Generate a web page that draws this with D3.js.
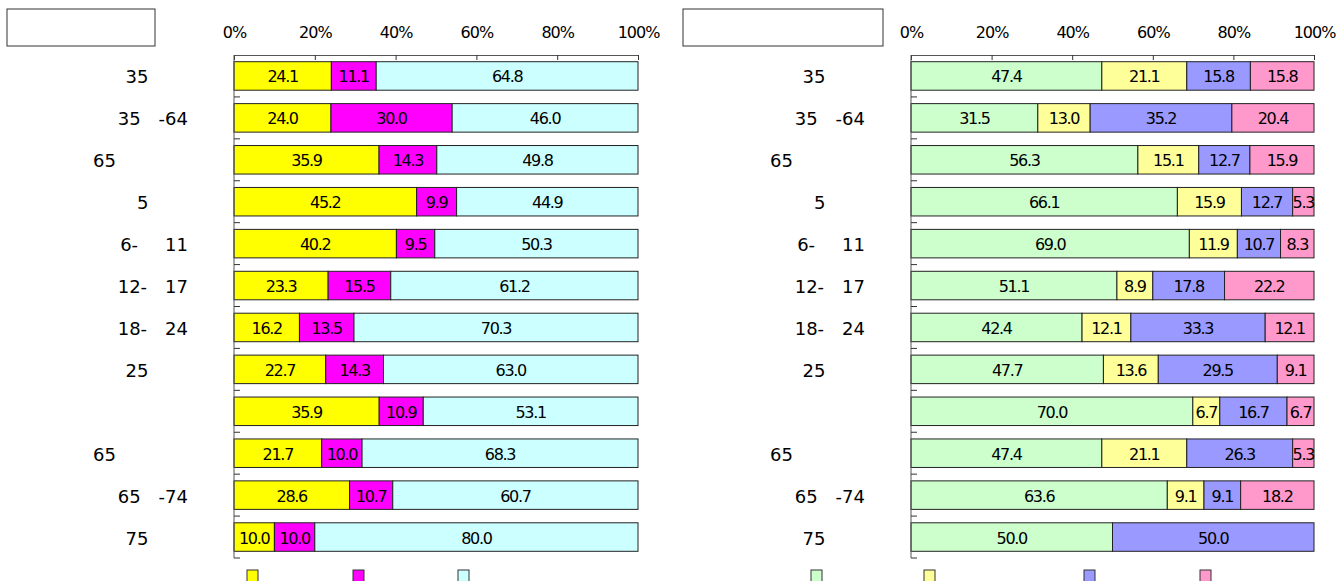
<!DOCTYPE html>
<html>
<head>
<meta charset="utf-8">
<script src="https://cdn.jsdelivr.net/npm/d3@7"></script>
<style>
body { margin: 0; background: #fff; }
svg { display: block; }
text { font-family: "DejaVu Sans", "Noto Sans CJK JP", sans-serif; fill: #000; }
</style>
</head>
<body>
<svg width="1341" height="581"></svg>
<script>
// row labels (the original glyphs after the numbers are blank, kept as spaces)
const categories = ["35\u2003\u2003\u2009", "35\u2003-64", "65\u2003\u2003\u2003\u2003", "5\u2003\u2003\u2009",
    "6-\u2003\u200211", "12-\u200317", "18-\u200324", "25\u2003\u2003\u2009", "",
    "65\u2003\u2003\u2003\u2003", "65\u2003-74", "75\u2003\u2003\u2009"];

const leftA = [24.1, 24.0, 35.9, 45.2, 40.2, 23.3, 16.2, 22.7, 35.9, 21.7, 28.6, 10.0];
const leftB = [11.1, 30.0, 14.3, 9.9, 9.5, 15.5, 13.5, 14.3, 10.9, 10.0, 10.7, 10.0];
const leftC = [64.8, 46.0, 49.8, 44.9, 50.3, 61.2, 70.3, 63.0, 53.1, 68.3, 60.7, 80.0];

const rightA = [47.4, 31.5, 56.3, 66.1, 69.0, 51.1, 42.4, 47.7, 70.0, 47.4, 63.6, 50.0];
const rightB = [21.1, 13.0, 15.1, 15.9, 11.9, 8.9, 12.1, 13.6, 6.7, 21.1, 9.1, 0];
const rightC = [15.8, 35.2, 12.7, 12.7, 10.7, 17.8, 33.3, 29.5, 16.7, 26.3, 9.1, 50.0];
const rightD = [15.8, 20.4, 15.9, 5.3, 8.3, 22.2, 12.1, 9.1, 6.7, 5.3, 18.2, 0];

const tickValues = [0, 0.2, 0.4, 0.6, 0.8, 1];

var svg = d3.select("svg");

var y = d3.scaleBand()
    .domain(d3.range(categories.length))
    .range([55, 558])
    .paddingInner(0.32)
    .paddingOuter(0.16);

function drawPanel(opts) {
    var g = svg.append("g");
    var x = d3.scaleLinear().domain([0, 1]).range([opts.x0, opts.x1]);

    // empty title box
    g.append("rect")
        .attr("x", opts.box[0]).attr("y", 9)
        .attr("width", opts.box[1]).attr("height", 37)
        .attr("fill", "#fff").attr("stroke", "#333");

    var rows = d3.range(categories.length).map(i => {
        var r = {i: i};
        opts.series.forEach((s, k) => { r[k] = s[i]; });
        return r;
    });
    var keys = opts.series.map((s, k) => k);
    var stacked = d3.stack().keys(keys).offset(d3.stackOffsetExpand)(rows);

    var layer = g.selectAll("g.layer")
        .data(stacked)
        .enter().append("g")
        .attr("class", "layer")
        .attr("fill", d => opts.colors[d.key]);

    layer.selectAll("rect")
        .data(d => d.filter(p => p[1] - p[0] > 0))
        .enter().append("rect")
        .attr("x", d => x(d[0]))
        .attr("y", d => y(d.data.i))
        .attr("width", d => x(d[1]) - x(d[0]))
        .attr("height", y.bandwidth())
        .attr("stroke", "#222")
        .attr("stroke-width", 1);

    layer.selectAll("text")
        .data(d => d.filter(p => p[1] - p[0] > 0).map(p => ({p: p, v: p.data[d.key]})))
        .enter().append("text")
        .attr("x", d => (x(d.p[0]) + x(d.p[1])) / 2)
        .attr("y", d => y(d.p.data.i) + y.bandwidth() / 2 + 1)
        .attr("dominant-baseline", "central")
        .attr("text-anchor", "middle")
        .attr("font-size", 16)
        .attr("letter-spacing", -1.3)
        .text(d => d.v.toFixed(1));

    // top axis
    var axis = g.append("g")
        .attr("transform", "translate(0,55)")
        .call(d3.axisTop(x).tickValues(tickValues)
            .tickFormat(d3.format(".0%"))
            .tickSizeInner(-5).tickSizeOuter(0).tickPadding(17));
    axis.select(".domain").attr("stroke", "#555");
    axis.selectAll(".tick line").attr("stroke", "#333");
    axis.attr("font-size", null).attr("font-family", null);
    axis.selectAll(".tick text")
        .attr("font-size", 16)
        .attr("letter-spacing", -1);

    // left axis with category separators
    g.append("line")
        .attr("x1", opts.x0).attr("x2", opts.x0)
        .attr("y1", y.range()[0]).attr("y2", y.range()[1])
        .attr("stroke", "#555");
    g.selectAll("line.sep")
        .data(d3.range(1, categories.length + 1))
        .enter().append("line")
        .attr("class", "sep")
        .attr("x1", opts.x0).attr("x2", opts.x0 + 6)
        .attr("y1", k => y.range()[0] + k * y.step())
        .attr("y2", k => y.range()[0] + k * y.step())
        .attr("stroke", "#333");

    g.selectAll("text.cat")
        .data(categories)
        .enter().append("text")
        .attr("class", "cat")
        .attr("x", opts.x0 - 46)
        .attr("y", (d, i) => y(i) + y.bandwidth() / 2 + 1)
        .attr("dominant-baseline", "central")
        .attr("text-anchor", "end")
        .attr("font-size", 18)
        .style("white-space", "pre")
        .text(d => d);

    // legend swatches
    g.selectAll("rect.key")
        .data(opts.colors)
        .enter().append("rect")
        .attr("class", "key")
        .attr("x", (d, k) => opts.legendX[k])
        .attr("y", 570)
        .attr("width", 11).attr("height", 12)
        .attr("fill", d => d)
        .attr("stroke", "#333");
}

drawPanel({
    x0: 234, x1: 638, box: [7, 148],
    series: [leftA, leftB, leftC],
    colors: ["#ffff00", "#ff00ff", "#ccffff"],
    legendX: [247, 353, 458]
});

drawPanel({
    x0: 911, x1: 1314, box: [683, 200],
    series: [rightA, rightB, rightC, rightD],
    colors: ["#ccffcc", "#ffff99", "#9999ff", "#ff99cc"],
    legendX: [811, 924, 1084, 1200]
});
</script>
</body>
</html>
